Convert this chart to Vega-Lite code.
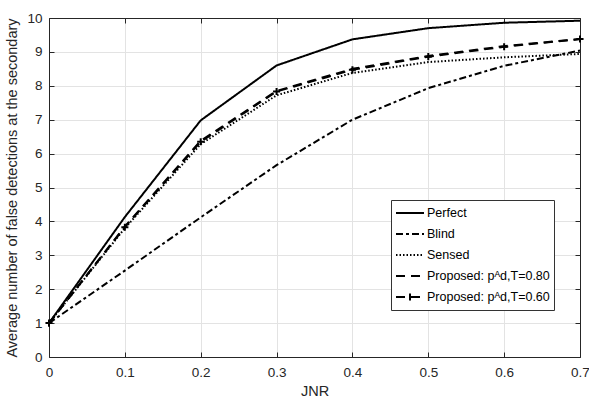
{
  "$schema": "https://vega.github.io/schema/vega-lite/v6.json",
  "width": 531,
  "height": 339,
  "autosize": {"type": "none"},
  "padding": {"left": 49, "top": 18, "right": 9, "bottom": 50},
  "background": "white",
  "config": {
    "font": "Liberation Sans",
    "view": {"stroke": null},
    "axis": {
      "domainColor": "#262626",
      "tickColor": "#262626",
      "labelColor": "#262626",
      "titleColor": "#262626",
      "labelFontSize": 13.5,
      "titleFontSize": 14.5,
      "titleFontWeight": "normal",
      "gridColor": "#e3e3e3",
      "gridWidth": 1
    }
  },
  "datasets": {
    "curves": [
      {"series": "Perfect", "jnr": 0.0, "value": 1.0},
      {"series": "Perfect", "jnr": 0.1, "value": 4.13},
      {"series": "Perfect", "jnr": 0.2, "value": 6.98},
      {"series": "Perfect", "jnr": 0.3, "value": 8.6},
      {"series": "Perfect", "jnr": 0.4, "value": 9.37},
      {"series": "Perfect", "jnr": 0.5, "value": 9.7},
      {"series": "Perfect", "jnr": 0.6, "value": 9.86},
      {"series": "Perfect", "jnr": 0.7, "value": 9.92},
      {"series": "Blind", "jnr": 0.0, "value": 1.0},
      {"series": "Blind", "jnr": 0.1, "value": 2.55},
      {"series": "Blind", "jnr": 0.2, "value": 4.12},
      {"series": "Blind", "jnr": 0.3, "value": 5.66},
      {"series": "Blind", "jnr": 0.4, "value": 7.0},
      {"series": "Blind", "jnr": 0.5, "value": 7.93},
      {"series": "Blind", "jnr": 0.6, "value": 8.59},
      {"series": "Blind", "jnr": 0.7, "value": 9.04},
      {"series": "Sensed", "jnr": 0.0, "value": 1.0},
      {"series": "Sensed", "jnr": 0.1, "value": 3.8},
      {"series": "Sensed", "jnr": 0.2, "value": 6.28},
      {"series": "Sensed", "jnr": 0.3, "value": 7.72},
      {"series": "Sensed", "jnr": 0.4, "value": 8.38},
      {"series": "Sensed", "jnr": 0.5, "value": 8.7},
      {"series": "Sensed", "jnr": 0.6, "value": 8.84},
      {"series": "Sensed", "jnr": 0.7, "value": 8.94},
      {"series": "Proposed: pᴬd,T=0.80", "jnr": 0.0, "value": 1.0},
      {"series": "Proposed: pᴬd,T=0.80", "jnr": 0.1, "value": 3.85},
      {"series": "Proposed: pᴬd,T=0.80", "jnr": 0.2, "value": 6.38},
      {"series": "Proposed: pᴬd,T=0.80", "jnr": 0.3, "value": 7.85},
      {"series": "Proposed: pᴬd,T=0.80", "jnr": 0.4, "value": 8.5},
      {"series": "Proposed: pᴬd,T=0.80", "jnr": 0.5, "value": 8.88},
      {"series": "Proposed: pᴬd,T=0.80", "jnr": 0.6, "value": 9.17},
      {"series": "Proposed: pᴬd,T=0.80", "jnr": 0.7, "value": 9.38},
      {"series": "Proposed: pᴬd,T=0.60", "jnr": 0.0, "value": 1.0},
      {"series": "Proposed: pᴬd,T=0.60", "jnr": 0.1, "value": 3.83},
      {"series": "Proposed: pᴬd,T=0.60", "jnr": 0.2, "value": 6.35},
      {"series": "Proposed: pᴬd,T=0.60", "jnr": 0.3, "value": 7.83},
      {"series": "Proposed: pᴬd,T=0.60", "jnr": 0.4, "value": 8.47},
      {"series": "Proposed: pᴬd,T=0.60", "jnr": 0.5, "value": 8.86},
      {"series": "Proposed: pᴬd,T=0.60", "jnr": 0.6, "value": 9.15},
      {"series": "Proposed: pᴬd,T=0.60", "jnr": 0.7, "value": 9.38}
    ]
  },
  "layer": [
    {
      "data": {"name": "curves"},
      "mark": {"type": "line", "stroke": "black", "strokeCap": "butt"},
      "encoding": {
        "x": {
          "field": "jnr", "type": "quantitative",
          "scale": {"domain": [0, 0.7], "nice": false, "zero": false},
          "axis": {
            "orient": "bottom", "title": "JNR",
            "values": [0, 0.1, 0.2, 0.3, 0.4, 0.5, 0.6, 0.7],
            "format": "~g", "grid": true, "tickSize": -5, "labelPadding": 13,
            "titlePadding": 6, "labelFlush": false
          }
        },
        "y": {
          "field": "value", "type": "quantitative",
          "scale": {"domain": [0, 10], "nice": false},
          "axis": {
            "orient": "left", "title": "Average number of false detections at the secondary",
            "values": [0, 1, 2, 3, 4, 5, 6, 7, 8, 9, 10],
            "grid": true, "tickSize": -5, "labelPadding": 12, "titlePadding": 7
          }
        },
        "detail": {"field": "series"},
        "strokeDash": {
          "field": "series", "type": "nominal",
          "scale": {
            "domain": ["Perfect", "Blind", "Sensed", "Proposed: pᴬd,T=0.80", "Proposed: pᴬd,T=0.60"],
            "range": [[1, 0], [7, 3, 3, 3], [1.5, 2], [9, 6], [9, 6]]
          },
          "legend": {
            "title": null,
            "orient": "none", "legendX": 342, "legendY": 182,
            "symbolType": "stroke", "symbolSize": 784, "symbolStrokeColor": "black",
            "labelFontSize": 12.5, "labelColor": "black", "labelOffset": 2,
            "fillColor": "white", "strokeColor": "#333333", "padding": 4,
            "clipHeight": 18, "rowPadding": 3,
            "labelLimit": 300,
            "encode": {
              "symbols": {"update": {"shape": {"signal": "indexof(datum.label, '0.60') >= 0 ? 'M-1,0H1M0,-0.25V0.25' : 'stroke'"}}}
            }
          }
        },
        "strokeWidth": {
          "field": "series", "type": "nominal",
          "scale": {
            "domain": ["Perfect", "Blind", "Sensed", "Proposed: pᴬd,T=0.80", "Proposed: pᴬd,T=0.60"],
            "range": [2, 2, 2, 3, 2]
          },
          "legend": null
        }
      }
    },
    {
      "data": {"name": "curves"},
      "transform": [{"filter": "datum.series === 'Proposed: pᴬd,T=0.60'"}],
      "mark": {"type": "point", "shape": "M-1,0H1M0,-1V1", "filled": false, "stroke": "black", "strokeWidth": 2, "size": 50, "opacity": 1},
      "encoding": {
        "x": {
          "field": "jnr", "type": "quantitative",
          "axis": {"orient": "top", "title": null, "labels": false, "grid": false, "tickSize": -5,
                   "values": [0, 0.1, 0.2, 0.3, 0.4, 0.5, 0.6, 0.7]}
        },
        "y": {
          "field": "value", "type": "quantitative",
          "axis": {"orient": "right", "title": null, "labels": false, "grid": false, "tickSize": -5,
                   "values": [0, 1, 2, 3, 4, 5, 6, 7, 8, 9, 10]}
        }
      }
    }
  ],
  "resolve": {"axis": {"x": "independent", "y": "independent"}}
}
